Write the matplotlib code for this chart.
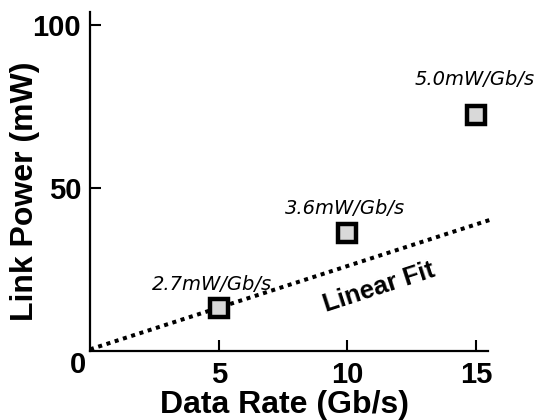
import matplotlib
matplotlib.use("Agg")
import matplotlib.pyplot as plt

# data
rates = [5, 10, 15]
powers = [13.3, 36.3, 72.4]
eff_labels = ["2.7mW/Gb/s", "3.6mW/Gb/s", "5.0mW/Gb/s"]
label_x = [4.72, 9.89, 14.96]
label_y = [18.7, 41.9, 81.6]
fit_x = [0.0, 15.6]
fit_y = [0.5, 40.4]
xticks = [5, 10, 15]
yticks = [50, 100]

AX_FONT = "Liberation Sans"

fig = plt.figure(figsize=(5.38, 4.2), dpi=100)
ax = fig.add_axes([90/538, 1-351/420, (488.3-90)/538, (351-11.7)/420])
ax.set_xlim(0, 15.47)
ax.set_ylim(0, 104.1)

ax.plot(fit_x, fit_y, color="black", lw=2.9, linestyle=(0, (1, 1.15)),
        clip_on=False, zorder=2)
ax.plot(rates, powers, linestyle="none", marker="s", markersize=12.6,
        markeredgewidth=3.2, markeredgecolor="black",
        markerfacecolor="#d9d9d9", zorder=3, clip_on=False)

for x, y, t in zip(label_x, label_y, eff_labels):
    ax.text(x, y, t, ha="center", va="baseline", fontsize=14,
            style="italic", family="DejaVu Sans", color="black")

ax.text(11.23, 19.6, "Linear Fit", rotation=18, ha="center", va="center",
        fontsize=18.5, fontweight="bold", family=AX_FONT,
        rotation_mode="anchor")

for s in ["top", "right"]:
    ax.spines[s].set_visible(False)
for s in ["left", "bottom"]:
    ax.spines[s].set_linewidth(1.6)

ax.set_xticks(xticks)
ax.set_yticks(yticks)
ax.set_xticklabels([str(v) for v in xticks])
ax.set_yticklabels([str(v) for v in yticks])
ax.tick_params(direction="in", length=8, width=1.5)
ax.tick_params(axis="y", pad=6.3)
ax.tick_params(axis="x", pad=7)
for lab in ax.get_xticklabels() + ax.get_yticklabels():
    lab.set_fontsize(21)
    lab.set_fontweight("bold")
    lab.set_family(AX_FONT)

ax.text(-0.47, -4.3, "0", ha="center", va="center", fontsize=21,
        fontweight="bold", family=AX_FONT, clip_on=False)

fig.text(284/538, 1-413/420, "Data Rate (Gb/s)", ha="center", va="baseline",
         fontsize=23, fontweight="bold", family=AX_FONT)
fig.text(25/538, 1-191.5/420, "Link Power (mW)", ha="center", va="center",
         rotation=90, fontsize=23, fontweight="bold", family=AX_FONT)

fig.savefig("out.png", dpi=100)
